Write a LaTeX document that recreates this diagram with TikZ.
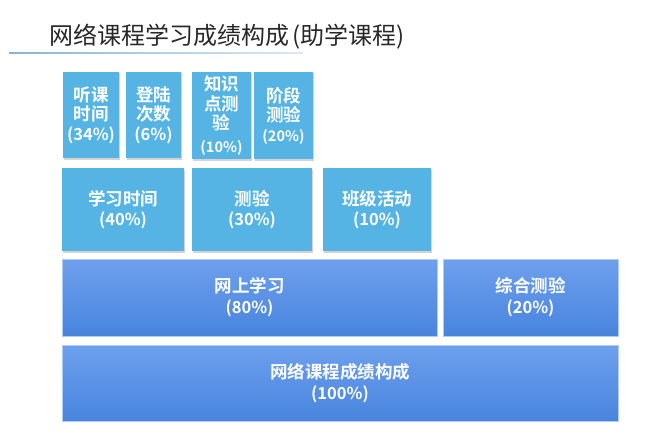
\documentclass[tikz,border=0pt]{standalone}
\usepackage{fontspec}
\setmainfont{Noto Sans CJK SC}[BoldFont={Noto Sans CJK SC Bold}]
\usetikzlibrary{shadows}

\definecolor{partblue}{RGB}{86,180,228}
\definecolor{wholetop}{RGB}{110,160,237}
\definecolor{wholebot}{RGB}{72,132,222}
\definecolor{wholeline}{RGB}{175,205,242}
\definecolor{titlegray}{RGB}{40,40,40}
\definecolor{ruleblue}{RGB}{135,180,215}

\tikzset{
  part/.style={fill=partblue, text=white, align=center, inner sep=0pt,
    font=\bfseries\fontsize{17.5}{19.5}\selectfont,
    drop shadow={shadow xshift=0.8pt, shadow yshift=-1.5pt, opacity=0.35}},
  whole/.style={top color=wholetop, bottom color=wholebot, draw=wholeline,
    line width=0.8pt, text=white, align=center, inner sep=0pt,
    font=\bfseries\fontsize{17.5}{21}\selectfont},
  pct/.style={font=\bfseries\fontsize{14}{19}\selectfont}
}
\newcommand{\pc}[1]{{\fontsize{16.5}{19}\selectfont(#1\%)}}
\newcommand{\spc}[1]{{\fontsize{14.5}{16}\selectfont(#1\%)}}

\begin{document}
\begin{tikzpicture}[x=1pt, y=-1pt]
  \useasboundingbox (0,0) rectangle (670,444);

  % title
  \node[anchor=base west, inner sep=0pt, text=titlegray,
    font=\fontsize{24}{27}\selectfont] (title) at (49,45)
    {网络课程学习成绩构成\hspace{3pt}(助学课程)};
  \coordinate (rulestart) at (9,53);
  \coordinate (ruleend) at (303,54);
  \shade[left color=ruleblue, right color=ruleblue!30] (rulestart) rectangle (ruleend);

  % first level
  \node[part, minimum width=56, minimum height=86] (tingke) at (91,115)
    {听课\\时间\\\pc{34}};
  \node[part, minimum width=55, minimum height=86] (denglu) at (153.5,115)
    {登陆\\次数\\\pc{6}};
  \node[part, minimum width=59, minimum height=87] (zhishi) at (221.5,115.5)
    {知识\\点测\\验\\[3pt]\spc{10}};
  \node[part, minimum width=59, minimum height=87] (jieduan) at (283.5,115.5)
    {阶段\\测验\\\spc{20}};

  % second level
  \node[part, minimum width=122, minimum height=83] (xuexi) at (123,209.5)
    {学习时间\\\pc{40}};
  \node[part, minimum width=120, minimum height=83] (ceyan) at (252,209.5)
    {测验\\\pc{30}};
  \node[part, minimum width=108, minimum height=83] (banji) at (377,209.5)
    {班级活动\\\pc{10}};

  % third level
  \node[whole, minimum width=375, minimum height=77] (wangshang) at (249.5,297.5)
    {网上学习\\\pc{80}};
  \node[whole, minimum width=175, minimum height=77] (zonghe) at (530.5,297.5)
    {综合测验\\\pc{20}};

  % total
  \node[whole, minimum width=556, minimum height=76] (zongti) at (340,383)
    {网络课程成绩构成\\\pc{100}};
\end{tikzpicture}
\end{document}
